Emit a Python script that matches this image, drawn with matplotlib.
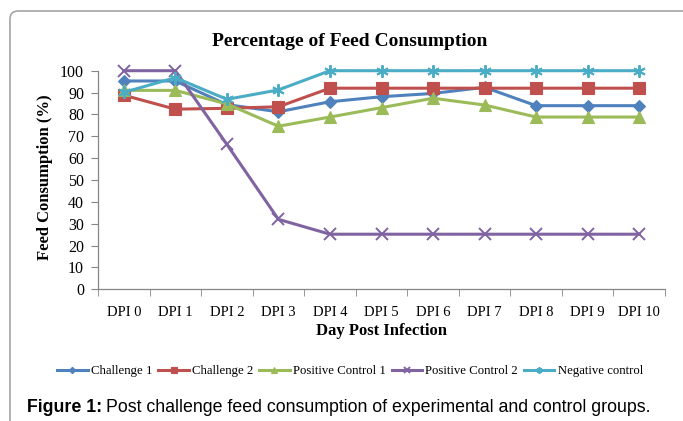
import matplotlib
matplotlib.use("Agg")
import matplotlib.pyplot as plt
from matplotlib.patches import FancyBboxPatch
import numpy as np

# dados
dias = ['DPI 0', 'DPI 1', 'DPI 2', 'DPI 3', 'DPI 4', 'DPI 5',
        'DPI 6', 'DPI 7', 'DPI 8', 'DPI 9', 'DPI 10']
challenge1 = [95.3, 95.3, 84.5, 81.2, 85.8, 88.1, 89.6, 92.4, 84.0, 84.0, 84.0]
challenge2 = [88.8, 82.4, 82.8, 83.5, 92.0, 92.0, 92.0, 92.0, 92.0, 92.0, 92.0]
positive1 = [91.0, 91.0, 84.8, 74.6, 78.8, 83.1, 87.4, 84.3, 78.8, 78.8, 78.8]
positive2 = [100, 100, 66.3, 32.0, 25.2, 25.2, 25.2, 25.2, 25.2, 25.2, 25.2]
negative = [90.1, 96.8, 86.9, 91.2, 100, 100, 100, 100, 100, 100, 100]

serie_nomes = ['Challenge 1', 'Challenge 2', 'Positive Control 1',
               'Positive Control 2', 'Negative control']
cores = ['#4F81BD', '#C0504D', '#9BBB59', '#8064A2', '#4BACC6']
marcadores = ['D', 's', '^', 'x', (6, 2, 0)]
tamanhos = [6.5, 8.5, 8.5, 9, 9]

serif = ['Liberation Serif', 'DejaVu Serif']

fig = plt.figure(figsize=(6.83, 4.21), dpi=100)
ax = fig.add_axes([98/683, 1 - 289.3/421, 567/683, 218.6/421])

index = np.arange(len(dias))
series = [challenge1, challenge2, positive1, positive2, negative]
for valores, nome, cor, m, ms in zip(series, serie_nomes, cores, marcadores, tamanhos):
    ax.plot(index, valores, color=cor, lw=2.2, marker=m, markersize=ms,
            markeredgewidth=1.4 if m in ('x', (6, 2, 0)) else 0.8,
            markeredgecolor=cor, label=nome, clip_on=False)

ax.set_xlim(-0.5, len(dias) - 0.5)
ax.set_ylim(0, 100)
ax.set_yticks(range(0, 101, 10))
ax.set_xticks(index)
ax.set_xticklabels(dias)
ax.set_xticks(np.arange(-0.5, len(dias), 1), minor=True)
ax.tick_params(axis='x', which='major', length=0, pad=12, labelsize=10.5)
ax.tick_params(axis='x', which='minor', length=5, color='#868686', direction='out')
ax.tick_params(axis='y', length=5, color='#868686', pad=5, labelsize=11.5)
for lab in ax.get_xticklabels() + ax.get_yticklabels():
    lab.set_family(serif)

for s in ['top', 'right']:
    ax.spines[s].set_visible(False)
for s in ['left', 'bottom']:
    ax.spines[s].set_color('#868686')
    ax.spines[s].set_linewidth(0.9)

fig.text(350/683, 1 - 42/421, 'Percentage of Feed Consumption', ha='center',
         va='center', fontsize=14, fontweight='bold', family=serif)
fig.text(45/683, 1 - 177/421, 'Feed Consumption (%)', ha='center', va='center',
         rotation=90, fontsize=12, fontweight='bold', family=serif)
fig.text(381/683, 1 - 331/421, 'Day Post Infection', ha='center', va='center',
         fontsize=12, fontweight='bold', family=serif)

leg = ax.legend(loc='center', bbox_to_anchor=(350/683, 1 - 371/421),
                bbox_transform=fig.transFigure, ncol=5, frameon=False,
                prop={'family': serif, 'size': 9.2}, handlelength=2.4,
                handletextpad=0.25, columnspacing=0.45, markerscale=0.5,
                borderpad=0, borderaxespad=0)

# caixa arredondada em volta
caixa = FancyBboxPatch((10/100, -1.0), 10, (421 - 11)/100 + 1.0,
                       boxstyle='round,pad=0,rounding_size=0.08',
                       transform=fig.dpi_scale_trans, fill=False,
                       edgecolor='#A6A6A6', lw=1.2)
fig.patches.append(caixa)

# legenda da figura
t1 = fig.text(27/683, 1 - 408/421, 'Figure 1:', ha='left', va='center',
              fontsize=12.8, fontweight='bold', family='Liberation Sans')
fig.canvas.draw()
bb = t1.get_window_extent()
fig.text(bb.x1/683 + 4/683, 1 - 408/421,
         'Post challenge feed consumption of experimental and control groups.',
         ha='left', va='center', fontsize=12.8, family='Liberation Sans')

fig.savefig('out.png', dpi=100)
